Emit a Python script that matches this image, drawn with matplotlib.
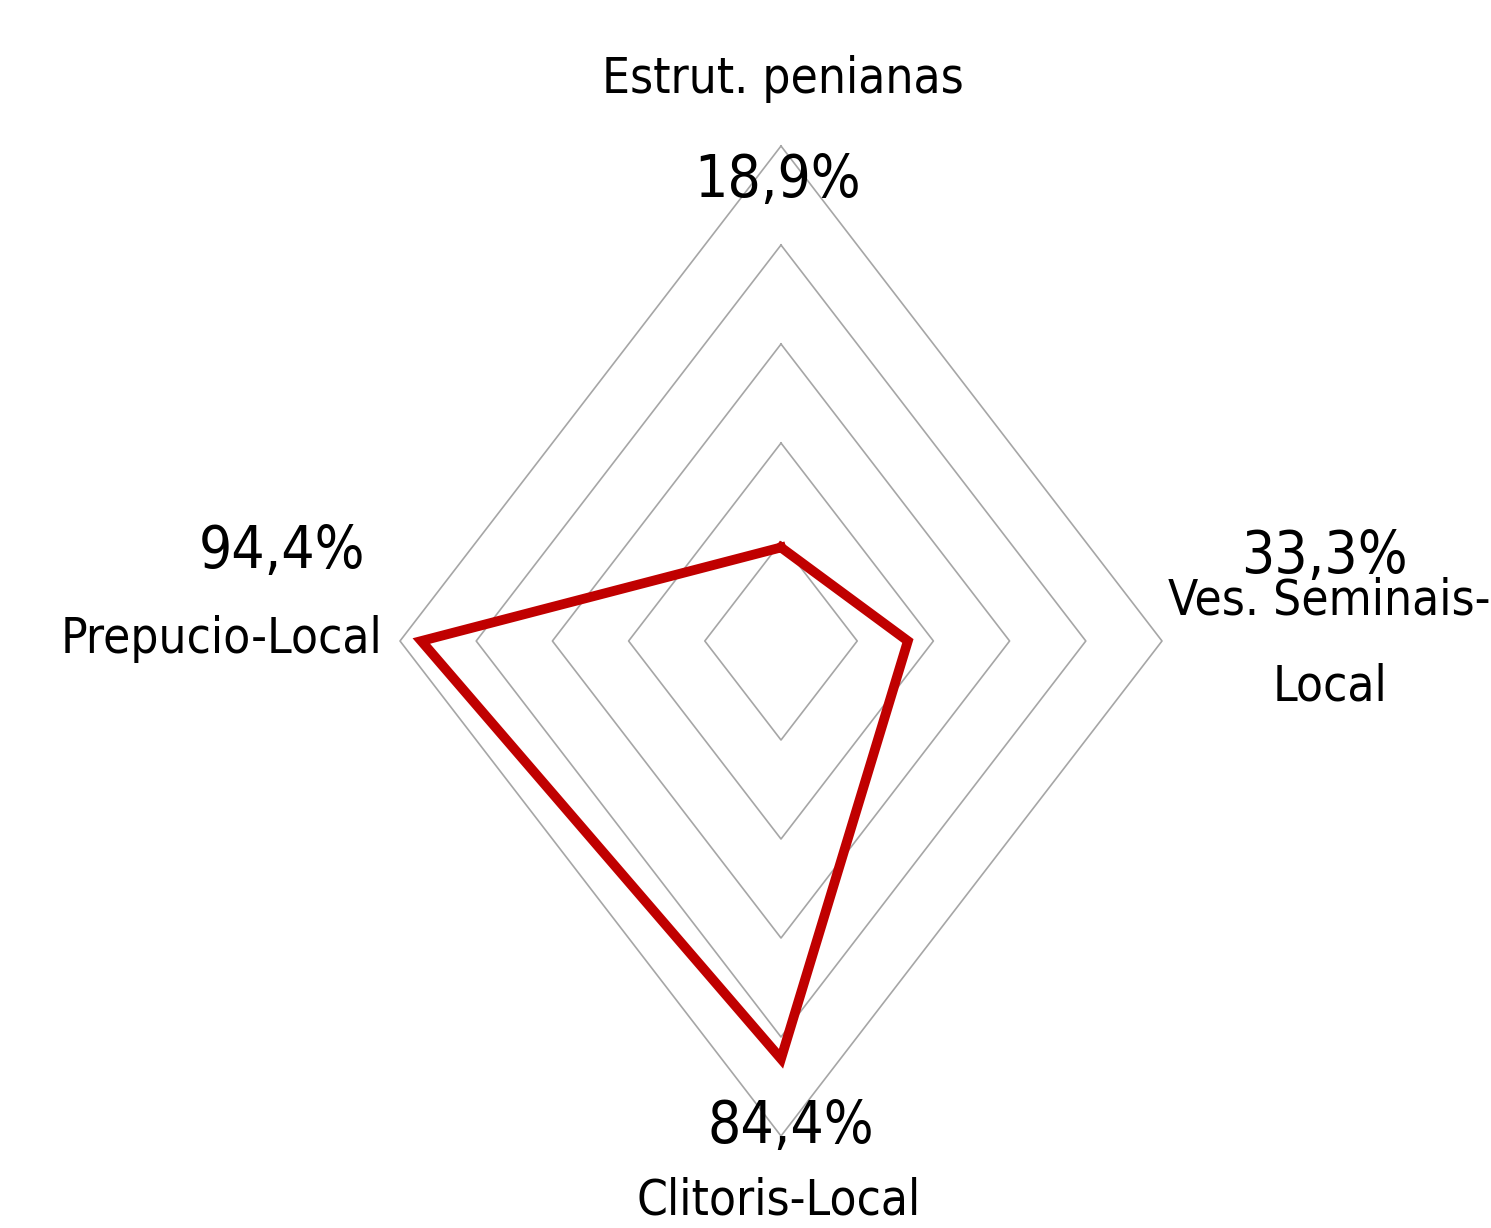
import numpy as np
import matplotlib
matplotlib.use("Agg")
import matplotlib.pyplot as plt

# data
categories = ["Estrut. penianas", "Ves. Seminais-\nLocal", "Clitoris-Local", "Prepucio-Local"]
values = [18.9, 33.3, 84.4, 94.4]
value_labels = ["18,9%", "33,3%", "84,4%", "94,4%"]
grid_levels = [20, 40, 60, 80, 100]

plt.rcParams["font.family"] = "DejaVu Sans"
plt.rcParams["font.stretch"] = "condensed"

W, H = 1491, 1228
cx, cy = 781, 641      # centre in pixels (from top)
sx, sy = 381, 495      # pixels per 100 %

fig = plt.figure(figsize=(W / 100, H / 100), dpi=100)
ax = fig.add_axes([0, 0, 1, 1])
ax.set_xlim(-cx / sx, (W - cx) / sx)
ax.set_ylim(-(H - cy) / sy, cy / sy)
ax.axis("off")

angles = np.deg2rad([0, 90, 180, 270])

def to_xy(r):
    r = np.asarray(r, dtype=float) / 100
    x = r * np.sin(angles)
    y = r * np.cos(angles)
    return np.append(x, x[0]), np.append(y, y[0])

# grid rings
for lvl in grid_levels:
    gx, gy = to_xy([lvl] * 4)
    ax.plot(gx, gy, color="#a6a6a6", lw=1.2, zorder=1)

# series
vx, vy = to_xy(values)
ax.plot(vx, vy, color="#c00000", lw=7, solid_joinstyle="miter", zorder=3)

fs_cat = 35.5
fs_val = 42

# top
ax.text(0.005, 1.135, categories[0], ha="center", va="center", fontsize=fs_cat)
ax.text(-0.01, 0.93, value_labels[0], ha="center", va="center", fontsize=fs_val)
# right
ax.text(1.425, 0.17, value_labels[1], ha="center", va="center", fontsize=fs_val)
ax.text(1.44, -0.005, categories[1], ha="center", va="center", fontsize=fs_cat,
        linespacing=2.0)
# bottom
ax.text(0.025, -0.98, value_labels[2], ha="center", va="center", fontsize=fs_val)
ax.text(-0.005, -1.13, categories[2], ha="center", va="center", fontsize=fs_cat)
# left
ax.text(-1.09, 0.18, value_labels[3], ha="right", va="center", fontsize=fs_val)
ax.text(-1.045, 0.005, categories[3], ha="right", va="center", fontsize=fs_cat)

fig.savefig("out.png", dpi=100, facecolor="white")
